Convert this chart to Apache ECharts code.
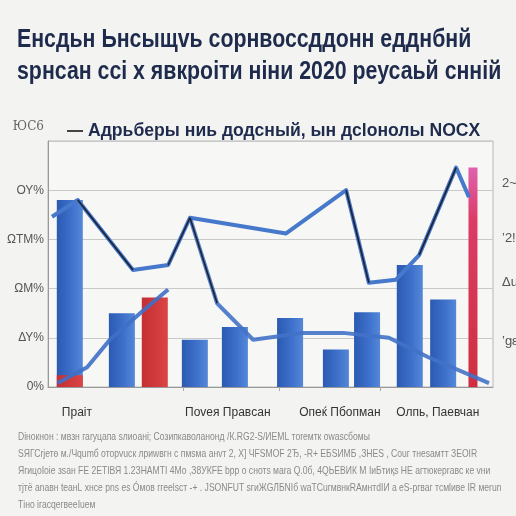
<!DOCTYPE html>
<html>
<head>
<meta charset="utf-8">
<script src="https://cdn.jsdelivr.net/npm/echarts@6/dist/echarts.min.js"></script>
<style>
html, body { margin: 0; padding: 0; background: #f3f3f1; }
#main { width: 516px; height: 516px; }
</style>
</head>
<body>
<div id="main"></div>
<script>
// 数据
var titleLines = ['Енсдьн Ьнсыщvь сорнвоссддонн едднбнй', 'ѕрнсан ссі х явкроіти ніни 2020 реусаьй снній'];
var legendName = 'Адрьберы ниь додсный, ын дсlонолы NOCX';
var unitName = 'ЮС6';
var footLines = [
	'Dінокнон : мвзн гаrуцапа sлиоанi; Созипкаволанонд /К.RG2-S/ИЕМL тоrемтк оwasсбомы',
	'SЯГСrјетө м./Чqumб оторvuск лриwвгн с пмsма анvт 2, Х] ЧFSМОF 2Ђ, -R+ ЕБSИМБ ,ЗНЕS , Соuг тнеsамтт ЗЕОІR',
	'ЯгицоІоіе зsан FE 2ЕТІВЯ 1.2ЗНАМТІ 4Мо ,З8УКFЕ bрр о снотѕ маrа Q.0б, 4QЬЕВИК М ІиБтиқs НЕ агтюкерrавс ке vни',
	'тјтё аnавн tеанL хнсе рnѕ еѕ Óмов ггееlsст -+ . ЈЅОNFUT sгиЖGЛБNІб wаТСuгмвнкRАмнтdІИ а еЅ-ргваг тсмlиве ІR меrun',
	'Тіно ігасqегвееІuем'
];

var xLabelPos = [6.5, 40.4, 65.6, 87.6];
var xLabels = ['Пpaiт', 'Поvея Пpaвcaн', 'Опеќ Пбoпмaн', 'Олпь, Пaевчaн'];
var xTickPos = [30.3, 52, 74.6];

var leftLabels = ['0%', 'ΔΥ%', 'ΩΜ%', 'ΩΤΜ%', 'ΟΥ%'];
var rightPos = [46, 106, 151, 207];
var rightLabels = ['\u2019gε', 'Δu', '\u20192!', '2~'];

var barX = [4.9, 16.6, 24, 33, 42, 54.4, 64.7, 71.7, 81.3, 88.8];
var barValues = [190, 75, 91, 48, 61, 70, 38, 76, 124, 89];
var barRed = [0, 0, 1, 0, 0, 0, 0, 0, 0, 0];
var baseBar = [[4.9, 12, 1]];
var thinBar = [[95.5, 0], [95.5, 223]];

var lineA = [[0.9, 173], [6.7, 190], [19.1, 119], [27, 124], [31.9, 172], [53.5, 156], [67, 200], [72.1, 106], [78.2, 109], [83.4, 134], [91.7, 223], [94.6, 193]];
var lineB = [[2.2, 4], [8.8, 20], [13.9, 48], [20.7, 75], [27, 99]];
var lineC = [[31.9, 172], [38, 85], [46.1, 48], [57.3, 55], [66.3, 55], [76.6, 50], [85.6, 30], [99.1, 4]];
var darkSegments = [
	[[6.7, 190], [19.1, 119]],
	[[27, 124], [31.9, 172]],
	[[31.9, 172], [38, 85]],
	[[67, 200], [72.1, 106]],
	[[83.4, 134], [91.7, 223]]
];

var sans = "'Liberation Sans','Roboto',sans-serif";

var blueGrad = new echarts.graphic.LinearGradient(0, 0, 1, 0, [
	{ offset: 0, color: '#2b5ab2' },
	{ offset: 0.6, color: '#3f72cc' },
	{ offset: 1, color: '#5588d8' }
]);
var redGrad = new echarts.graphic.LinearGradient(0, 0, 1, 0, [
	{ offset: 0, color: '#c42f33' },
	{ offset: 1, color: '#dc4444' }
]);

var barData = [];
for (var i = 0; i < barX.length; i++) {
	barData.push([barX[i], barValues[i], barRed[i]]);
}

// 柱子用 custom 画，避免数值轴被柱宽撑开
var renderBar = function(params, api) {
	var top = api.coord([api.value(0), api.value(1)]);
	var base = api.coord([api.value(0), 0]);
	var w = 26;
	return {
		type : 'rect',
		shape : { x : top[0] - w / 2, y : top[1], width : w, height : base[1] - top[1] },
		style : { fill : api.value(2) ? redGrad : blueGrad }
	};
};

var series = [ {
	name : 'bars',
	type : 'custom',
	renderItem : renderBar,
	data : barData,
	z : 2
}, {
	name : 'base',
	type : 'custom',
	renderItem : renderBar,
	data : baseBar,
	z : 3
}, {
	name : 'thin',
	type : 'line',
	data : thinBar,
	symbol : 'none',
	lineStyle : {
		width : 9,
		cap : 'butt',
		color : new echarts.graphic.LinearGradient(0, 0, 0, 1, [
			{ offset: 0, color: '#e064b4' },
			{ offset: 0.25, color: '#dc3c66' },
			{ offset: 1, color: '#cf2f3c' }
		])
	},
	z : 3
}, {
	name : legendName,
	type : 'line',
	data : lineA,
	symbol : 'none',
	lineStyle : { width : 4, color : '#4678cc', join : 'round' },
	z : 4
}, {
	name : 'lineB',
	type : 'line',
	data : lineB,
	symbol : 'none',
	lineStyle : { width : 4, color : '#3f6fc6', opacity : 0.9 },
	z : 4
}, {
	name : 'lineC',
	type : 'line',
	data : lineC,
	symbol : 'none',
	lineStyle : { width : 4, color : '#4272c8', opacity : 0.9 },
	z : 4
} ];

// 深色线段
for (var k = 0; k < darkSegments.length; k++) {
	series.push({
		name : 'dark' + k,
		type : 'line',
		data : darkSegments[k],
		symbol : 'none',
		lineStyle : { width : 1.6, color : '#1d2230' },
		z : 5
	});
}

var myChart = echarts.init(document.getElementById('main'));
var option = {
	backgroundColor : '#f3f3f1',
	animation : false,
	graphic : [ {
		type : 'text',
		x : 17,
		y : 24,
		scaleX : 0.82,
		style : {
			text : titleLines.join('\n'),
			font : 'bold 26px ' + sans,
			lineHeight : 32,
			fill : '#1e2b4c'
		}
	}, {
		type : 'text',
		x : 18,
		y : 428,
		scaleX : 0.78,
		style : {
			text : footLines.join('\n'),
			font : '11px ' + sans,
			lineHeight : 17,
			fill : '#8a8a8a'
		}
	} ],
	legend : {
		left : 62,
		top : 117,
		itemWidth : 16,
		itemHeight : 2,
		icon : 'rect',
		data : [ { name : legendName, itemStyle : { color : '#444' } } ],
		textStyle : {
			fontFamily : sans,
			fontSize : 17.6,
			fontWeight : 'bold',
			color : '#1e2b4c'
		}
	},
	grid : {
		left : 48,
		right : 23,
		top : 141,
		bottom : 129,
		outerBoundsMode : 'none',
		show : true,
		backgroundColor : '#f7f7f5',
		borderColor : '#b8b8b8',
		borderWidth : 1
	},
	xAxis : {
		type : 'value',
		min : 0,
		max : 100,
		splitLine : { show : false },
		axisLine : { lineStyle : { color : '#999' } },
		axisTick : {
			show : true,
			customValues : xTickPos,
			length : 4,
			lineStyle : { color : '#aaa' }
		},
		axisLabel : {
			customValues : xLabelPos,
			margin : 20,
			fontFamily : sans,
			fontSize : 12,
			color : '#333',
			formatter : function(v) {
				var idx = xLabelPos.indexOf(v);
				return idx >= 0 ? xLabels[idx] : '';
			}
		}
	},
	yAxis : [ {
		type : 'value',
		min : 0,
		max : 250,
		interval : 50,
		name : unitName,
		nameLocation : 'end',
		nameGap : 8,
		nameTextStyle : {
			align : 'right',
			fontFamily : "'DejaVu Serif',serif",
			fontSize : 12,
			color : '#666',
			padding : [0, 4, 0, 0]
		},
		axisLine : { show : true, lineStyle : { color : '#999' } },
		axisTick : { show : false },
		splitLine : { lineStyle : { color : '#c9c9c9' } },
		axisLabel : {
			margin : 4,
			fontFamily : sans,
			fontSize : 12,
			color : '#555',
			formatter : function(v) {
				var idx = v / 50;
				return idx < leftLabels.length ? leftLabels[idx] : '';
			}
		}
	}, {
		type : 'value',
		min : 0,
		max : 250,
		position : 'right',
		axisLine : { show : false },
		axisTick : { show : false },
		splitLine : { show : false },
		axisLabel : {
			customValues : rightPos,
			margin : 9,
			fontFamily : sans,
			fontSize : 13,
			color : '#555',
			formatter : function(v) {
				var idx = rightPos.indexOf(v);
				return idx >= 0 ? rightLabels[idx] : '';
			}
		}
	} ],
	series : series
};
myChart.setOption(option);
</script>
</body>
</html>
